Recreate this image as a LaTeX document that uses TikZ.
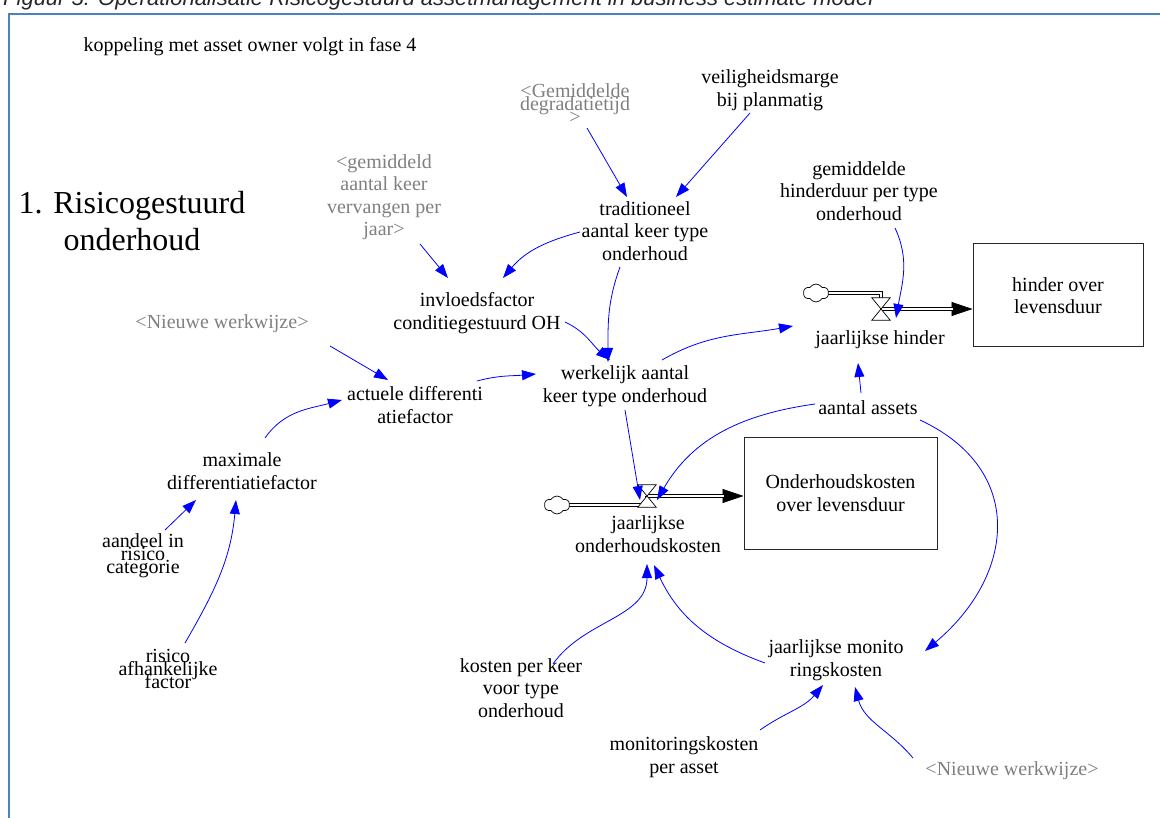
\documentclass[tikz,border=0pt]{standalone}
\usepackage{fontspec}
\setmainfont{Liberation Serif}
\newfontfamily\capfont{Liberation Sans}
\usetikzlibrary{arrows.meta,shapes.symbols}

\definecolor{framecol}{RGB}{79,129,189}
\definecolor{linkblue}{RGB}{0,0,255}
\definecolor{ghostgray}{RGB}{128,128,128}

\begin{document}
\begin{tikzpicture}[x=1pt,y=1pt,
  lbl/.style={align=center, inner sep=0pt, font=\fontsize{20}{22.5}\selectfont},
  packed/.style={align=center, inner sep=0pt, font={\fontsize{20}{13}\selectfont\lineskiplimit=-40pt}},
  ghost/.style={text=ghostgray},
  stockbox/.style={draw=black!85, line width=1pt, align=center, inner sep=0pt,
    font=\fontsize{20}{22.5}\selectfont},
  link/.style={draw=linkblue, line width=0.8pt, -{Triangle[length=14pt,width=10pt]}},
  pipe/.style={draw=black, line width=0.7pt, double=white, double distance=2.6pt},
  flowtip/.style={draw=black, line width=0.7pt, -{Triangle[length=21pt,width=14pt]}},
  valveshape/.style={minimum width=18pt, minimum height=22pt, inner sep=0pt},
  cloudshape/.style={cloud, cloud puffs=6, cloud puff arc=120, draw, minimum width=25pt,
    minimum height=18pt, inner sep=0pt, line width=0.7pt, fill=white}
]
\useasboundingbox (0,0) rectangle (1160,-818);
\clip (0,0) rectangle (1160,-818);
\fill[white] (0,0) rectangle (1160,-818);

% caption above the model frame
\node[anchor=base west, inner sep=0pt, text=black!85,
  font={\capfont\itshape\fontsize{22}{26}\selectfont}] (caption) at (3,-6)
  {Figuur 5: Operationalisatie Risicogestuurd assetmanagement in business estimate model};

% model frame
\draw[framecol, line width=2.2pt, line join=miter] (9,-830) -- (9,-14) -- (1175,-14);

% variables
\node[lbl] (note) at (250,-47) {koppeling met asset owner volgt in fase 4};
\node[lbl, font=\fontsize{32}{37}\selectfont] (title) at (132,-221) {1. Risicogestuurd\\onderhoud};
\node[packed, ghost] (gemDeg) at (575,-104) {<Gemiddelde\\degradatietijd\\>};
\node[lbl] (veilig) at (770,-90) {veiligheidsmarge\\bij planmatig};
\node[lbl] (trad) at (645,-231) {traditioneel\\aantal keer type\\onderhoud};
\node[lbl] (gemHinder) at (859,-191) {gemiddelde\\hinderduur per type\\onderhoud};
\node[lbl, ghost] (gemVerv) at (384,-197) {<gemiddeld\\aantal keer\\vervangen per\\jaar>};
\node[lbl] (invloed) at (477,-313) {invloedsfactor\\conditiegestuurd OH};
\node[lbl, ghost] (nieuwe1) at (222,-324) {<Nieuwe werkwijze>};
\node[lbl] (hinder) at (880,-340) {jaarlijkse hinder};
\node[lbl] (werk) at (625,-386) {werkelijk aantal\\keer type onderhoud};
\node[lbl] (actuele) at (415,-405) {actuele differenti\\atiefactor};
\node[lbl] (assets) at (868,-408) {aantal assets};
\node[lbl] (maximale) at (242,-471) {maximale\\differentiatiefactor};
\node[lbl] (jok) at (648,-534) {jaarlijkse\\onderhoudskosten};
\node[packed] (aandeel) at (143,-556) {aandeel in\\risico\\categorie};
\node[packed] (risico) at (168,-669) {risico\\afhankelijke\\factor};
\node[lbl] (jmon) at (836,-660) {jaarlijkse monito\\ringskosten};
\node[lbl] (kosten) at (521,-688) {kosten per keer\\voor type\\onderhoud};
\node[lbl] (monAsset) at (684,-757) {monitoringskosten\\per asset};
\node[lbl, ghost] (nieuwe2) at (1012,-771) {<Nieuwe werkwijze>};

% stocks
\node[stockbox, minimum width=170pt, minimum height=103pt] (hStock) at (1058,-295.5) {hinder over\\levensduur};
\node[stockbox, minimum width=193pt, minimum height=112pt] (oStock) at (840.5,-493) {Onderhoudskosten\\over levensduur};

% flows: clouds, valves and pipes
\node[valveshape] (vH) at (881,-309) {};
\node[valveshape] (vO) at (647,-496) {};
\coordinate (hIn) at (vH.center -| hStock.west);
\coordinate (oIn) at (vO.center -| oStock.west);

\draw[pipe] (817,-293) -- (vH.north |- 0,-293) -- (vH.north);
\draw[flowtip] (vH.center) -- (hIn);
\draw[pipe, shorten >=20pt] (vH.center) -- (hIn);
\node[cloudshape] (cH) at (816,-293) {};

\draw[pipe] (558,-505) -- (vO.center |- 0,-505) -- (vO.center);
\draw[flowtip] (vO.center) -- (oIn);
\draw[pipe, shorten >=20pt] (vO.center) -- (oIn);
\node[cloudshape] (cO) at (557,-505) {};

\foreach \v in {vH,vO}
  \draw[line width=0.7pt, fill=white] (\v.north west) -- (\v.north east)
    -- (\v.south west) -- (\v.south east) -- cycle;

% causal links
\draw[link] ([shift={(12,-24)}]gemDeg.center) -- ([shift={(-18,34)}]trad.center);
\draw[link] ([shift={(-20,-23)}]veilig.center) -- ([shift={(31,34)}]trad.center);
\draw[link] ([shift={(-65,-1)}]trad.center) to[out=195,in=50] ([shift={(26,35)}]invloed.center);
\draw[link] ([shift={(-25,-36)}]trad.center) to[out=250,in=90] ([shift={(-17,24)}]werk.center);
\draw[link] ([shift={(36,-47)}]gemVerv.center) -- ([shift={(-29,35)}]invloed.center);
\draw[link] ([shift={(88,-9)}]invloed.center) to[out=-25,in=140] ([shift={(-15,26)}]werk.center);
\draw[link] ([shift={(108,-22)}]nieuwe1.center) -- ([shift={(-27,25)}]actuele.center);
\draw[link] ([shift={(23,33)}]maximale.center) to[out=55,in=195] ([shift={(-73,5)}]actuele.center);
\draw[link] ([shift={(62,24)}]actuele.center) to[out=15,in=185] ([shift={(-89,12)}]werk.center);
\draw[link] ([shift={(37,26)}]werk.center) to[out=30,in=190] ([shift={(-87,14)}]hinder.center);
\draw[link] ([shift={(36,-37)}]gemHinder.center) to[out=-65,in=80] ([shift={(15,-9)}]vH.center);
\draw[link] ([shift={(-7,15)}]assets.center) -- ([shift={(-22,-23)}]hinder.center);
\draw[link] ([shift={(0,-24)}]werk.center) -- ([shift={(-7,-4)}]vO.center);
\draw[link] ([shift={(-53,4)}]assets.center) to[out=188,in=60] ([shift={(10,-4)}]vO.center);
\draw[link] ([shift={(52,-12)}]assets.center) to[out=-25,in=40,looseness=1.3] ([shift={(89,9)}]jmon.center);
\draw[link] ([shift={(32,24)}]kosten.center) to[out=55,in=-90] ([shift={(-1,-30)}]jok.center);
\draw[link] ([shift={(-71,-3)}]jmon.center) to[out=160,in=-65] ([shift={(6,-31)}]jok.center);
\draw[link] ([shift={(76,27)}]monAsset.center) to[out=35,in=230] ([shift={(-13,-25)}]jmon.center);
\draw[link] ([shift={(-99,13)}]nieuwe2.center) to[out=130,in=-75] ([shift={(19,-27)}]jmon.center);
\draw[link] ([shift={(22,26)}]aandeel.center) -- ([shift={(-46,-29)}]maximale.center);
\draw[link] ([shift={(17,26)}]risico.center) to[out=60,in=-95] ([shift={(-6,-29)}]maximale.center);
\end{tikzpicture}
\end{document}
